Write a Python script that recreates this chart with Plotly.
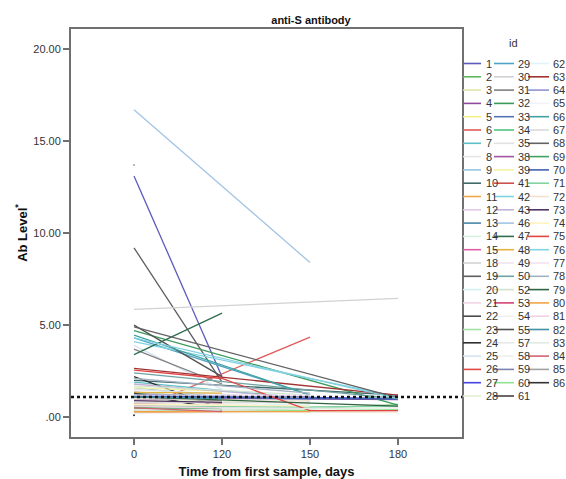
import plotly.graph_objects as go

# ---- data -------------------------------------------------------------
TIME_LABELS = ["0", "120", "150", "180"]   # days from first sample

IDS = [1, 2, 3, 4, 5, 6, 7, 8, 9, 10, 11, 12, 13, 14, 15, 18, 19, 20, 21, 22,
       23, 24, 25, 26, 27, 28,
       29, 30, 31, 32, 33, 34, 35, 38, 39, 41, 42, 43, 46, 47, 48, 49, 50, 52,
       53, 54, 55, 57, 58, 59, 60, 61,
       62, 63, 64, 65, 66, 67, 68, 69, 70, 71, 72, 73, 74, 75, 76, 77, 78, 79,
       80, 81, 82, 83, 84, 85, 86]

N = None
DAY0 = [13.1, 1.3, 0.9, 1.05, 0.6, 0.35, 1.9, 0.7, 1.6, 2.0, 0.25, 1.4, 1.15, 0.5,
        0.8, 0.75, 9.2, 1.2, 0.9, 1.0, 0.45, 2.2, 3.9, 0.3, 1.2, 0.95,
        4.3, 5.85, 3.7, 4.7, 1.25, 0.4, 1.5, 1.0, 1.6, 0.65, 4.1, 1.8, 16.7, 3.4,
        1.35, 0.55, 2.4, 1.7, 0.7, 0.85, 5.0, 0.3, 0.2, 1.1, 0.5, 1.3,
        0.6, 2.65, 1.0, 0.4, 4.45, 0.8, 4.9, 0.5, 1.15, 0.6, 1.0, 0.9, 0.7, 2.55,
        4.3, 1.2, 2.1, 1.1, 0.3, 0.6, 1.1, 0.4, 0.5, 13.7, 0.1]
DAY120 = [2.2, N, 0.8, N, 0.5, N, N, N, 1.1, N, N, 0.8, N, N,
          0.45, N, 1.9, N, 0.9, 0.9, N, 0.45, 1.5, 0.3, N, N,
          N, N, 1.8, N, N, N, N, 0.95, 1.4, 0.7, N, N, N, 5.65,
          1.3, N, N, N, 0.6, N, 2.2, N, N, N, N, 0.4,
          N, N, N, N, N, N, N, 0.45, N, N, N, 0.8, N, 2.1,
          N, N, N, N, N, 0.5, 1.0, N, 0.3, N, N]
DAY150 = [N, 0.9, N, N, N, 4.35, 1.0, 0.6, N, N, N, N, 1.0, 0.6,
          N, 0.8, N, 1.1, N, N, 0.45, N, N, N, N, 0.75,
          1.2, N, N, N, 1.05, 0.3, 1.0, N, N, N, N, 1.0, 8.4, N,
          N, 0.5, N, 1.2, N, 0.5, N, 0.4, N, 1.1, 0.35, N,
          0.7, N, 0.95, 0.5, 1.2, 0.8, N, N, 1.0, 0.55, 0.9, N, 0.6, 0.35,
          N, 1.2, 1.3, N, 0.3, N, N, N, N, N, N]
DAY180 = [N, N, N, 0.95, N, N, N, N, N, 1.2, 0.3, N, N, N,
          N, N, N, N, N, N, 0.7, N, N, N, 1.0, N,
          N, 6.45, N, 0.65, 1.0, N, N, N, N, N, 1.1, N, N, N,
          N, N, 1.0, N, N, N, N, N, 0.3, N, 0.4, N,
          N, 1.2, N, N, N, N, 1.05, N, 0.98, 0.6, N, N, N, 0.35,
          1.0, N, N, 0.6, N, N, N, 0.5, N, N, N]

COLORS = ["#5b5bbd", "#5cb85c", "#e3e3a8", "#8e4a9e", "#f5ee8a", "#e05a5a", "#5fbfc8",
          "#e6e6e6", "#94c6e0", "#3f6868", "#f0a848", "#e2c8e6", "#4a86a8", "#d6f0e2",
          "#e060a6", "#d2d2d2", "#5e5e5e", "#d4f0f2", "#f2d4e4", "#4a4a4a", "#a6e0a6",
          "#2e2e2e", "#d4e2f2", "#e04848", "#4444e0", "#e2f0d2",
          "#4fa3c4", "#d2d2d2", "#7f7f7f", "#3a9a5a", "#5672b4", "#4fc484", "#e2e2e2",
          "#a452a4", "#f2f2a2", "#d05050", "#7fd2e2", "#c2b2d4", "#a2c4e4", "#2f6e4f",
          "#e2b242", "#f2e2f2", "#6fa2a2", "#d2e2d2", "#d24474", "#f0f0f0", "#525252",
          "#e8e8e8", "#f0f0f0", "#8282b2", "#92e292", "#424242",
          "#e2f2fa", "#a23232", "#9292d2", "#f2f2fa", "#42a2a2", "#dadada", "#626262",
          "#42a262", "#4262b2", "#82d2a2", "#f2e2d2", "#523262", "#fff2c2", "#e24444",
          "#82d2e2", "#f2e2f2", "#a2b2c2", "#326442", "#f2a242", "#f2d2e2", "#4292a2",
          "#e2eae2", "#d26272", "#a2a2a2", "#323232"]

REF_LEVEL = 1.1                      # positivity cut-off
Y_TICKS = [0, 5, 10, 15, 20]
Y_TICK_TEXT = [".00", "5.00", "10.00", "15.00", "20.00"]

# ---- layout geometry (pixels) ------------------------------------------
W, H = 566, 479
L, R, T, B = 71, 104, 29, 42
PW, PH = W - L - R, H - T - B
FONT = "Liberation Sans, Arial, sans-serif"
FRAME = "#707070"


def px_x(px):
    return (px - L) / PW


def px_y(py):
    return (H - B - py) / PH


fig = go.Figure()

series = [DAY0, DAY120, DAY150, DAY180]
for i, sid in enumerate(IDS):
    xs, ys = [], []
    for t, col in enumerate(series):
        if col[i] is not None:
            xs.append(t)
            ys.append(col[i])
    single = len(xs) == 1
    fig.add_trace(go.Scatter(
        x=xs, y=ys, name=str(sid),
        mode="markers" if single else "lines",
        line=dict(color=COLORS[i], width=1.3),
        marker=dict(color=COLORS[i], size=2),
        showlegend=False, hoverinfo="name+y",
    ))

# dotted reference level
fig.add_shape(type="line", xref="paper", x0=0, x1=1, yref="y",
              y0=REF_LEVEL, y1=REF_LEVEL,
              line=dict(color="#111111", width=2.5, dash="dot"))

# ---- id key, three columns ----------------------------------------------
rows = 26
col_geo = [(463, 481, 484), (494, 514, 516), (528, 549, 551)]
row0, dy = 63.5, 13.3
for i, sid in enumerate(IDS):
    c, r = divmod(i, rows)
    x0, x1, xt = col_geo[c]
    yy = px_y(row0 + r * dy)
    fig.add_shape(type="line", xref="paper", yref="paper",
                  x0=px_x(x0), x1=px_x(x1), y0=yy, y1=yy,
                  line=dict(color=COLORS[i], width=1.6))
    fig.add_annotation(xref="paper", yref="paper", x=px_x(xt), y=yy,
                       text=str(sid), showarrow=False, xanchor="left",
                       yanchor="middle", font=dict(family=FONT, size=11, color="#333333"))
fig.add_annotation(xref="paper", yref="paper", x=px_x(513), y=px_y(43),
                   text="id", showarrow=False, xanchor="center", yanchor="middle",
                   font=dict(family=FONT, size=11, color="#333333"))

fig.update_layout(
    width=W, height=H,
    margin=dict(l=L, r=R, t=T, b=B, autoexpand=False),
    paper_bgcolor="white", plot_bgcolor="white",
    font=dict(family=FONT, size=11, color="#333333"),
    title=dict(text="<b>anti-S antibody</b>", x=px_x(311), xref="paper",
               xanchor="center", y=1 - 20 / H, yref="container", yanchor="middle",
               font=dict(family=FONT, size=11, color="#111111")),
    xaxis=dict(
        range=[-0.716, 3.727], tickvals=[0, 1, 2, 3], ticktext=TIME_LABELS,
        showgrid=False, zeroline=False, showline=True, mirror=True,
        linecolor=FRAME, linewidth=2, ticks="outside", ticklen=6,
        tickcolor=FRAME, tickwidth=1.5,
        tickfont=dict(family=FONT, size=11, color="#333333"),
        title=dict(text="<b>Time from first sample, days</b>", standoff=8,
                   font=dict(family=FONT, size=13, color="#111111")),
    ),
    yaxis=dict(
        range=[-1.08, 21.09], tickvals=Y_TICKS, ticktext=Y_TICK_TEXT,
        showgrid=False, zeroline=False, showline=True, mirror=True,
        linecolor=FRAME, linewidth=2, ticks="outside", ticklen=6,
        tickcolor=FRAME, tickwidth=1.5,
        tickfont=dict(family=FONT, size=11, color="#333333"),
        title=dict(text="<b>Ab Level<sup>*</sup></b>", standoff=3,
                   font=dict(family=FONT, size=13, color="#111111")),
    ),
)

fig.write_html("out.html")
